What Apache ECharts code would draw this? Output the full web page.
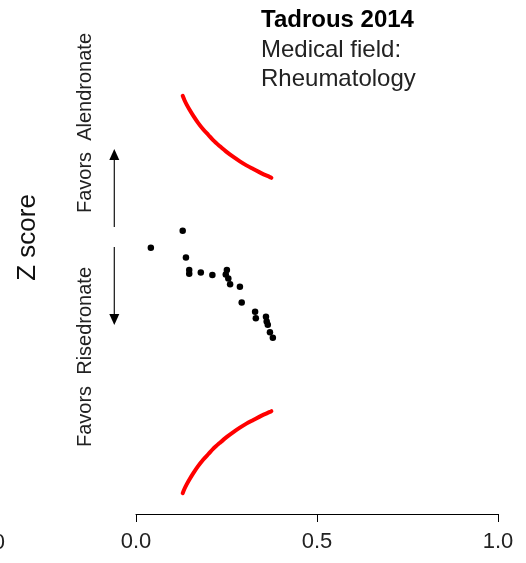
<!DOCTYPE html>
<html>
<head>
<meta charset="utf-8">
<title>Tadrous 2014 – Z score</title>
<script src="https://cdn.jsdelivr.net/npm/echarts@6/dist/echarts.min.js"></script>
<style>
  html, body { margin: 0; padding: 0; background: #fff; }
  #chart { width: 526px; height: 563px; }
</style>
</head>
<body>
<div id="chart"></div>
<script>
// Study estimates: x position and Z score
const studyX = [0.129, 0.041, 0.138, 0.147, 0.147, 0.179, 0.211, 0.251, 0.248, 0.255,
                0.260, 0.287, 0.292, 0.329, 0.331, 0.359, 0.361, 0.364, 0.370, 0.378];
const studyZ = [1.74, 1.28, 1.01, 0.67, 0.57, 0.60, 0.53, 0.67, 0.55, 0.44,
                0.28, 0.21, -0.22, -0.47, -0.65, -0.61, -0.74, -0.83, -1.03, -1.18];

// Significance boundaries (upper and lower)
const boundX = [0.129, 0.134, 0.140, 0.148, 0.158, 0.171, 0.186, 0.200, 0.213, 0.232,
                0.251, 0.269, 0.287, 0.305, 0.324, 0.347, 0.370, 0.374];
const upperZ = [5.43, 5.31, 5.19, 5.05, 4.89, 4.70, 4.51, 4.36, 4.22, 4.05,
                3.89, 3.76, 3.64, 3.53, 3.43, 3.31, 3.21, 3.19];
const lowerZ = [-5.43, -5.31, -5.19, -5.05, -4.89, -4.70, -4.51, -4.36, -4.22, -4.05,
                -3.89, -3.76, -3.64, -3.53, -3.43, -3.31, -3.21, -3.19];

// Axis ticks
const xTicks = [0.0, 0.5, 1.0];

const pairs = (xs, ys) => xs.map((x, i) => [x, ys[i]]);

const FONT = 'Liberation Sans, Arial, sans-serif';
const chart = echarts.init(document.getElementById('chart'), null, { renderer: 'canvas' });

function arrow(x, yTail, yTip) {
  const dir = yTip < yTail ? -1 : 1;
  return [
    { type: 'line', shape: { x1: x, y1: yTail, x2: x, y2: yTip - dir * 8 },
      style: { stroke: '#111', lineWidth: 1.2 } },
    { type: 'polygon',
      shape: { points: [[x, yTip], [x - 5, yTip - dir * 11], [x + 5, yTip - dir * 11]] },
      style: { fill: '#000' } }
  ];
}

const boundaryLine = { color: '#ff0000', width: 4, cap: 'round', join: 'round' };

const option = {
  animation: false,
  backgroundColor: '#fff',
  grid: { left: 136, right: 28, top: 75, bottom: 49 },
  xAxis: {
    type: 'value',
    min: xTicks[0],
    max: xTicks[xTicks.length - 1],
    interval: xTicks[1] - xTicks[0],
    axisLine: { show: true, onZero: false, lineStyle: { color: '#000', width: 1 } },
    axisTick: { show: true, length: 8, lineStyle: { color: '#000', width: 1 } },
    splitLine: { show: false },
    axisLabel: {
      margin: 17,
      fontSize: 22,
      fontFamily: FONT,
      color: '#222',
      formatter: v => v.toFixed(1)
    }
  },
  yAxis: {
    type: 'value',
    min: -6,
    max: 6,
    show: false
  },
  series: [
    {
      type: 'line',
      data: pairs(boundX, upperZ),
      smooth: 0.3,
      showSymbol: false,
      lineStyle: boundaryLine
    },
    {
      type: 'line',
      data: pairs(boundX, lowerZ),
      smooth: 0.3,
      showSymbol: false,
      lineStyle: boundaryLine
    },
    {
      type: 'scatter',
      data: pairs(studyX, studyZ),
      symbol: 'circle',
      symbolSize: 6.5,
      itemStyle: { color: '#000', opacity: 1 }
    }
  ],
  graphic: [
    { type: 'text', x: 261, y: 20.5,
      style: { text: 'Tadrous 2014', font: 'bold 24px ' + FONT, fill: '#000', verticalAlign: 'middle' } },
    { type: 'text', x: 261, y: 50.5,
      style: { text: 'Medical field:', font: '24px ' + FONT, fill: '#222', verticalAlign: 'middle' } },
    { type: 'text', x: 261, y: 79.5,
      style: { text: 'Rheumatology', font: '24px ' + FONT, fill: '#222', verticalAlign: 'middle' } },
    { type: 'text', x: 28, y: 237.5, rotation: Math.PI / 2,
      style: { text: 'Z score', font: '26px ' + FONT, fill: '#111', align: 'center', verticalAlign: 'middle' } },
    { type: 'text', x: 85, y: 123, rotation: Math.PI / 2,
      style: { text: 'Favors  Alendronate', font: '20px ' + FONT, fill: '#222', align: 'center', verticalAlign: 'middle' } },
    { type: 'text', x: 85, y: 357, rotation: Math.PI / 2,
      style: { text: 'Favors  Risedronate', font: '20px ' + FONT, fill: '#222', align: 'center', verticalAlign: 'middle' } },
    { type: 'text', x: 5, y: 543,
      style: { text: '1.0', font: '22px ' + FONT, fill: '#222', align: 'right', verticalAlign: 'middle' } },
    ...arrow(114.3, 227, 149),
    ...arrow(114.3, 247, 325)
  ]
};

chart.setOption(option);
</script>
</body>
</html>
